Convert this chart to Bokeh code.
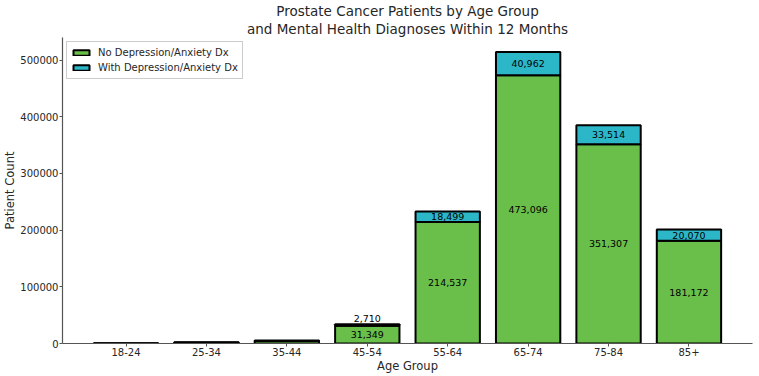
from bokeh.plotting import figure
from bokeh.models import ColumnDataSource, Range1d, FixedTicker, Title, Legend, LegendItem, NumeralTickFormatter
from bokeh.embed import file_html
from bokeh.resources import INLINE
from bokeh.core.properties import value

age_groups = ["18-24", "25-34", "35-44", "45-54", "55-64", "65-74", "75-84", "85+"]
no_dep = [400, 1800, 4600, 31349, 214537, 473096, 351307, 181172]
with_dep = [60, 250, 800, 2710, 18499, 40962, 33514, 20070]

GREEN = "#6abf4b"
TEAL = "#2cb7c9"
FONT = "DejaVu Sans"
TXT = "#262626"

x = list(range(len(age_groups)))
tops = [a + b for a, b in zip(no_dep, with_dep)]
src = ColumnDataSource(dict(x=x, nd=no_dep, wd=with_dep, top=tops,
                            zero=[0] * len(x)))

p = figure(width=759, height=376, output_backend="svg", toolbar_location=None,
           x_range=Range1d(-0.79, 7.79), y_range=Range1d(0, 539761),
           min_border_left=61, min_border_right=7, min_border_top=0, min_border_bottom=33)
p.title = None
p.add_layout(Title(text="and Mental Health Diagnoses Within 12 Months", align="center",
                   text_font=FONT, text_font_size="13.5px", text_font_style="normal",
                   text_color=TXT, standoff=1, offset=0), "above")
p.add_layout(Title(text="Prostate Cancer Patients by Age Group", align="center",
                   text_font=FONT, text_font_size="13.5px", text_font_style="normal",
                   text_color=TXT, standoff=0, offset=0), "above")

r1 = p.vbar(x="x", bottom="zero", top="nd", width=0.8, source=src,
            fill_color=GREEN, line_color="black", line_width=2)
r2 = p.vbar(x="x", bottom="nd", top="top", width=0.8, source=src,
            fill_color=TEAL, line_color="black", line_width=2)

# labels
gx, gy, gt = [], [], []
cx, cy, ct = [], [], []
ax_, ay, at = [], [], []
for i, (a, b) in enumerate(zip(no_dep, with_dep)):
    if a >= 10000:
        gx.append(i); gy.append(a / 2); gt.append(f"{a:,}")
    if b >= 10000:
        cx.append(i); cy.append(a + b / 2); ct.append(f"{b:,}")
    elif b >= 1000:
        ax_.append(i); ay.append(a + b); at.append(f"{b:,}")

p.text(x=gx, y=gy, text=gt, text_align="center", text_baseline="middle",
       text_font=value(FONT), text_font_size="9.5px", text_color="black")
p.text(x=cx, y=cy, text=ct, text_align="center", text_baseline="middle",
       text_font=value(FONT), text_font_size="9.5px", text_color="black")
p.text(x=ax_, y=ay, text=at, text_align="center", text_baseline="bottom",
       y_offset=-2, text_font=value(FONT), text_font_size="9.5px", text_color="black")

legend = Legend(items=[LegendItem(label="No Depression/Anxiety Dx", renderers=[r1]),
                       LegendItem(label="With Depression/Anxiety Dx", renderers=[r2])],
                location="top_left", label_text_font=FONT, label_text_font_size="10px",
                label_text_color=TXT, glyph_width=20, glyph_height=7,
                label_height=13, label_standoff=7, spacing=2, padding=4, margin=4,
                border_line_color="#cccccc", border_line_alpha=1, background_fill_alpha=0.9)
p.add_layout(legend)

p.xaxis.ticker = FixedTicker(ticks=x)
p.xaxis.major_label_overrides = {i: g for i, g in enumerate(age_groups)}
p.yaxis.ticker = FixedTicker(ticks=[0, 100000, 200000, 300000, 400000, 500000])
p.yaxis.formatter = NumeralTickFormatter(format="0")
p.xaxis.axis_label = "Age Group"
p.yaxis.axis_label = "Patient Count"
for ax in (p.xaxis, p.yaxis):
    ax.axis_label_text_font = FONT
    ax.axis_label_text_font_size = "11.5px"
    ax.axis_label_text_font_style = "normal"
    ax.axis_label_text_color = TXT
    ax.major_label_text_font = FONT
    ax.major_label_text_font_size = "10px"
    ax.major_label_text_color = TXT
    ax.axis_line_color = "#555555"
    ax.axis_line_width = 1.2
    ax.major_tick_line_color = "#555555"
    ax.major_tick_out = 3
    ax.major_tick_in = 0
    ax.minor_tick_line_color = None
    ax.major_label_standoff = 1
p.xaxis.axis_label_standoff = 0
p.yaxis.axis_label_standoff = 0
p.grid.visible = False
p.outline_line_color = None

open("out.html", "w").write(file_html(p, INLINE))
